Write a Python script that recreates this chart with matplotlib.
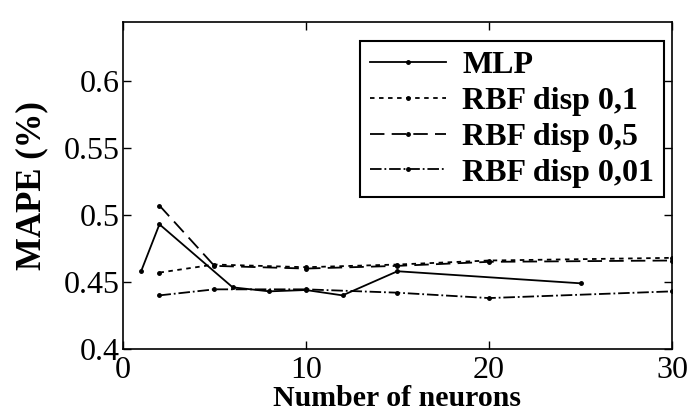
import matplotlib.pyplot as plt

# data
mlp_x = [1, 2, 6, 8, 10, 12, 15, 25]
mlp_y = [0.458, 0.493, 0.446, 0.443, 0.444, 0.440, 0.458, 0.449]

rbf_x = [2, 5, 10, 15, 20, 30]
rbf01_y = [0.457, 0.463, 0.461, 0.463, 0.466, 0.468]
rbf05_y = [0.507, 0.462, 0.460, 0.462, 0.465, 0.466]
rbf001_y = [0.440, 0.4445, 0.4445, 0.442, 0.438, 0.443]

labels = ['MLP', 'RBF disp 0,1', 'RBF disp 0,5', 'RBF disp 0,01']
xticks = [0, 10, 20, 30]
yticks = [0.4, 0.45, 0.5, 0.55, 0.6]

plt.rcParams['font.family'] = ['Liberation Serif', 'DejaVu Serif']

fig = plt.figure(figsize=(6.9, 4.19), dpi=100)
ax = fig.add_axes([0.178, 0.167, 0.796, 0.781])

kw = dict(color='black', lw=1.3, marker='.', ms=5)
ax.plot(mlp_x, mlp_y, '-', label=labels[0], **kw)
ax.plot(rbf_x, rbf01_y, '--', label=labels[1], dashes=(2.5, 2.5), **kw)
ax.plot(rbf_x, rbf05_y, '--', label=labels[2], dashes=(8, 4), **kw)
ax.plot(rbf_x, rbf001_y, '-.', label=labels[3], **kw)

ax.set_xlim(0, 30)
ax.set_ylim(0.4, 0.644)
ax.set_xticks(xticks)
ax.set_yticks(yticks)
ax.set_yticklabels(['0.4', '0.45', '0.5', '0.55', '0.6'])
ax.tick_params(direction='in', top=True, right=True, labelsize=23, length=6, width=1)
ax.tick_params(axis='y', pad=2)
ax.tick_params(axis='x', pad=5)
for s in ax.spines.values():
    s.set_linewidth(1.2)

ax.set_xlabel('Number of neurons', fontsize=21.5, fontweight='bold', labelpad=0)
ax.set_ylabel('MAPE (%)', fontsize=25, fontweight='bold', labelpad=11)

leg = ax.legend(loc='upper right', bbox_to_anchor=(0.985, 0.94), fancybox=False,
                edgecolor='black', framealpha=1, handlelength=2.4,
                prop={'size': 23, 'weight': 'bold'}, borderaxespad=0,
                labelspacing=0.2, borderpad=0.3, handletextpad=0.5)
leg.get_frame().set_linewidth(1.5)

fig.savefig('out.png', dpi=100)
